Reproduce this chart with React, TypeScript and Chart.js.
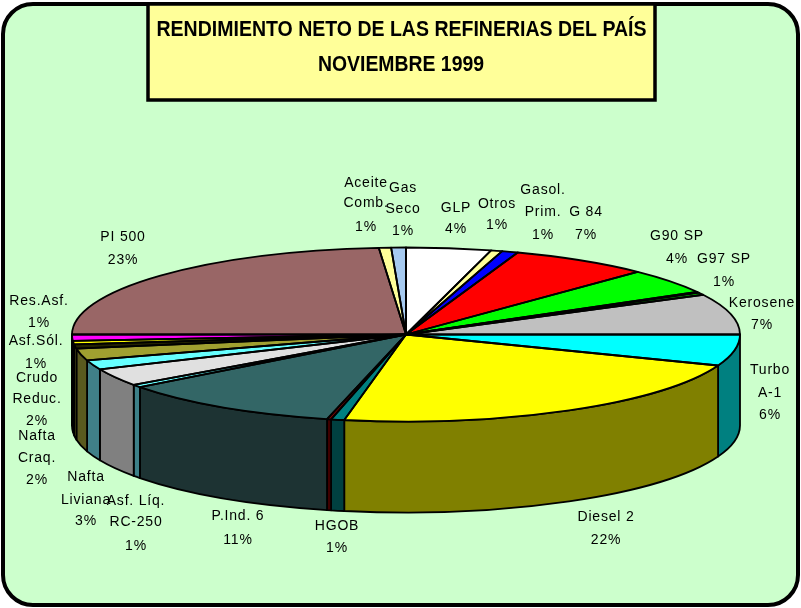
import React, { useEffect, useRef } from "react";
import { Chart, registerables } from "chart.js";

Chart.register(...registerables);

// ---- data ----
const categories = [
  "GLP", "Otros", "Gasol.\nPrim.", "G 84", "G90 SP", "", "G97 SP", "Kerosene", "Turbo\nA-1", "Diesel 2",
  "HGOB", "", "P.Ind. 6", "Asf. Líq.\nRC-250", "Nafta\nLiviana", "Nafta\nCraq.", "Crudo\nReduc.", "",
  "Asf.Sól.", "Res.Asf.", "PI 500", "Aceite\nComb.", "Gas\nSeco",
];
const shares = [
  4.1, 0.55, 0.78, 6.77, 4.63, 0.2, 0.42, 7.55, 5.8, 22.16,
  0.64, 0.2, 10.87, 0.5, 3.28, 1.75, 2.2, 0.8,
  0.65, 1.15, 23.7, 0.59, 0.71,
];
const percentLabels = [
  "4%", "1%", "1%", "7%", "4%", "", "1%", "7%", "6%", "22%",
  "1%", "", "11%", "1%", "3%", "2%", "2%", "",
  "1%", "1%", "23%", "1%", "1%",
];
const titleLines = ["RENDIMIENTO NETO DE LAS REFINERIAS DEL PAÍS", "NOVIEMBRE 1999"];

// ---- styles ----
const topColors = [
  "#FFFFFF", "#FFFF99", "#0000FF", "#FF0000", "#00FF00", "#33CCCC", "#00FF00", "#C0C0C0", "#00FFFF", "#FFFF00",
  "#008080", "#800000", "#336666", "#66FFFF", "#E0E0E0", "#66FFFF", "#A0A030", "#222200",
  "#FFFF00", "#FF00FF", "#996666", "#FFFF99", "#A6CAF0",
];
const wallColors = [
  "#808080", "#808050", "#000080", "#800000", "#008000", "#1A6666", "#008000", "#606060", "#008080", "#808000",
  "#004040", "#400000", "#1D3333", "#3D8088", "#808080", "#408088", "#5A5A1E", "#5A5A1E",
  "#000000", "#000000", "#4D3333", "#808050", "#536578",
];
// Hand placement of each label: [centre x, line centre ys], in category order
const labelPlaces: ([number, number[]] | null)[] = [
  [456, [208, 229]],
  [497, [204, 225]],
  [543, [190, 212, 235]],
  [586, [212, 235]],
  [677, [236, 259]],
  null,
  [724, [259, 282]],
  [762, [303, 325]],
  [770, [370, 393, 415]],
  [606, [517, 540]],
  [337, [526, 548]],
  null,
  [238, [516, 540]],
  [136, [501, 522, 546]],
  [86, [477, 500, 521]],
  [37, [436, 458, 480]],
  [37, [378, 399, 421]],
  null,
  [36, [341, 364]],
  [39, [301, 323]],
  [123, [237, 260]],
  [366, [183, 203, 227]],
  [403, [188, 209, 231]],
];

const RX = 334;
const RY = 87;
const DEPTH = 91;

const stage = {
  id: "stage",
  beforeDraw(chart: any) {
    const c = chart.ctx;
    c.save();
    c.fillStyle = "#FFFFFF";
    c.fillRect(0, 0, 801, 608);
    c.beginPath();
    c.roundRect(3, 4, 795, 601, 30);
    c.fillStyle = "#CCFFCC";
    c.fill();
    c.lineWidth = 4;
    c.strokeStyle = "#000";
    c.stroke();
    // title box
    c.beginPath();
    c.rect(148, 4, 507, 96);
    c.fillStyle = "#FFFF99";
    c.fill();
    c.lineWidth = 3.5;
    c.stroke();
    c.fillStyle = "#000";
    c.textAlign = "center";
    c.textBaseline = "middle";
    c.font = "bold 22px 'Liberation Sans'";
    c.fillText(titleLines[0], 401.5, 30, 490);
    c.fillText(titleLines[1], 401, 65, 166);
    c.restore();
  },
  beforeDatasetsDraw(chart: any) {
    const c = chart.ctx;
    const arcs = chart.getDatasetMeta(0).data;
    c.save();
    c.strokeStyle = "#000";
    c.lineWidth = 1.8;
    c.lineJoin = "round";
    arcs.forEach((a: any, i: number) => {
      const s = Math.max(a.startAngle, 0);
      const e = Math.min(a.endAngle, Math.PI);
      if (e <= s) return;
      c.beginPath();
      c.ellipse(a.x, a.y, RX, RY, 0, s, e);
      c.ellipse(a.x, a.y + DEPTH, RX, RY, 0, e, s, true);
      c.closePath();
      c.fillStyle = wallColors[i];
      c.fill();
      c.stroke();
    });
    c.restore();
    const first = arcs[0];
    c.save();
    c.translate(first.x, first.y);
    c.scale(RX / first.outerRadius, RY / first.outerRadius);
    c.translate(-first.x, -first.y);
  },
  afterDatasetsDraw(chart: any) {
    const c = chart.ctx;
    c.restore();
    const arcs = chart.getDatasetMeta(0).data;
    c.save();
    c.strokeStyle = "#000";
    c.lineWidth = 1.8;
    c.lineJoin = "round";
    arcs.forEach((a: any) => {
      c.beginPath();
      c.moveTo(a.x, a.y);
      c.ellipse(a.x, a.y, RX, RY, 0, a.startAngle, a.endAngle);
      c.closePath();
      c.stroke();
    });
    c.restore();

    c.save();
    c.fillStyle = "#000";
    c.textAlign = "center";
    c.textBaseline = "middle";
    c.font = "14px 'Liberation Sans'";
    (c as any).letterSpacing = "0.8px";
    categories.forEach((name, i) => {
      const place = labelPlaces[i];
      if (!place) return;
      const lines = [...name.split("\n"), percentLabels[i]];
      lines.forEach((t, k) => c.fillText(t, place[0], place[1][k]));
    });
    c.restore();
  },
};

export default function App() {
  const ref = useRef<HTMLCanvasElement>(null);
  useEffect(() => {
    const chart = new Chart(ref.current!, {
      type: "pie",
      data: {
        labels: categories,
        datasets: [
          {
            data: shares,
            backgroundColor: topColors,
            borderWidth: 0,
            clip: false,
          } as any,
        ],
      },
      options: {
        responsive: false,
        animation: false,
        radius: RX,
        events: [],
        layout: { padding: { left: 11, top: 61, right: 0, bottom: 0 } },
        plugins: { legend: { display: false }, tooltip: { enabled: false }, title: { display: false } },
      } as any,
      plugins: [stage],
    });
    return () => chart.destroy();
  }, []);
  return (
    <div style={{ position: "absolute", left: 0, top: 0, width: 801, height: 608 }}>
      <canvas ref={ref} width={801} height={608} style={{ display: "block" }} />
    </div>
  );
}
